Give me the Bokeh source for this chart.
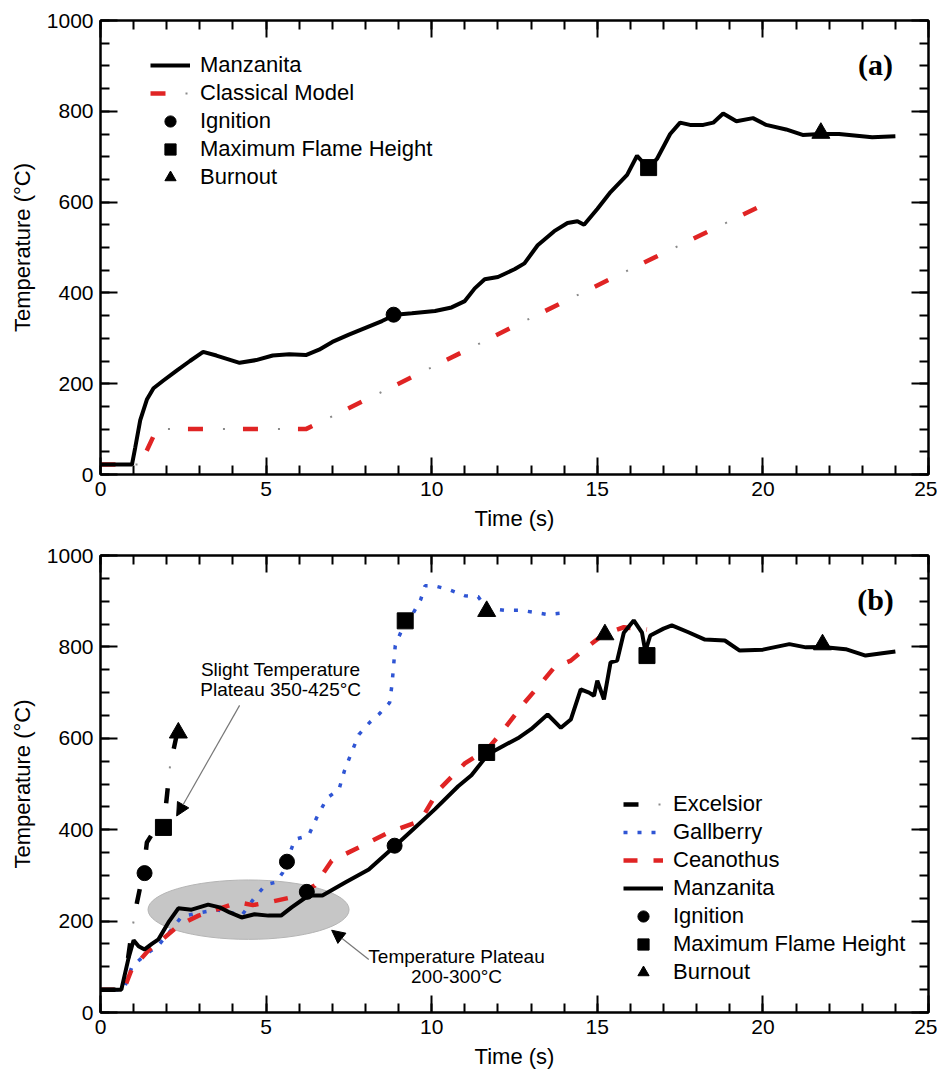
from bokeh.plotting import figure
from bokeh.models import (Range1d, LinearAxis, SingleIntervalTicker, Legend, LegendItem,
                          Label, Arrow, NormalHead, CustomJSTickFormatter)
from bokeh.layouts import column
from bokeh.embed import file_html
from bokeh.resources import INLINE

FONT = "Liberation Sans"

# ---------------- Panel (a) data ----------------
a_manz_t = [0, 0.95, 1.05, 1.2, 1.4, 1.6, 1.9, 2.3, 2.7, 3.1, 3.5, 4.2, 4.7, 5.2, 5.7, 6.2,
            6.6, 7.0, 7.5, 8.0, 8.5, 8.9, 9.4, 10.1, 10.6, 11.0, 11.3, 11.6, 12.0, 12.5,
            12.8, 13.2, 13.7, 14.1, 14.4, 14.6, 15.0, 15.4, 15.9, 16.2, 16.35, 16.55, 16.8,
            17.2, 17.5, 17.8, 18.2, 18.5, 18.8, 19.2, 19.7, 20.1, 20.7, 21.2, 21.75, 22.3,
            23.3, 24.0]
a_manz_T = [22, 22, 60, 120, 165, 190, 207, 229, 250, 270, 262, 246, 252, 262, 265, 263,
            275, 292, 308, 323, 338, 352, 355, 360, 368, 382, 410, 430, 435, 452,
            465, 505, 536, 554, 558, 550, 585, 622, 660, 702, 690, 676, 695,
            750, 775, 770, 770, 775, 795, 778, 785, 770, 760, 748, 750, 750,
            743, 745]
a_model_t = [0, 1.2, 1.7, 6.2, 6.6, 10.0, 13.0, 16.3, 19.9]
a_model_T = [22, 22, 100, 100, 114, 236, 345, 463, 590]
a_ign_t, a_ign_T = [8.85], [352]
a_mfh_t, a_mfh_T = [16.55], [676]
a_burn_t, a_burn_T = [21.75], [752]

# ---------------- Panel (b) data ----------------
b_manz_t = [0, 0.63, 0.85, 1.0, 1.15, 1.33, 1.55, 1.75, 2.05, 2.35, 2.75, 3.25, 3.6, 3.9,
            4.26, 4.65, 5.07, 5.45, 5.77, 6.28, 6.7, 7.4, 8.1, 8.9, 9.5, 10.1, 10.8, 11.2,
            11.7, 12.2, 12.6, 13.0, 13.5, 13.9, 14.2, 14.5, 14.75, 14.9, 15.0, 15.2, 15.4,
            15.6, 15.8, 16.1, 16.35, 16.45, 16.6, 17.0, 17.25, 17.75, 18.25, 18.85, 19.3,
            20.0, 20.8, 21.3, 21.8, 22.5, 23.1, 23.6, 24.0]
b_manz_T = [50, 50, 120, 158, 145, 138, 150, 160, 197, 228, 225, 236, 230, 219,
            208, 215, 212, 212, 230, 256, 256, 285, 313, 365, 405, 445, 495, 519,
            565, 585, 600, 620, 652, 623, 641, 707, 700, 693, 726, 685, 766,
            770, 831, 858, 831, 790, 825, 840, 847, 832, 816, 814, 792,
            794, 806, 799, 800, 795, 781, 786, 790]
b_exc_t = [0, 0.7, 0.95, 1.1, 1.3, 1.4, 1.6, 1.9, 2.0, 2.1, 2.25, 2.4]
b_exc_T = [50, 50, 180, 240, 310, 372, 395, 405, 470, 540, 590, 640]
b_gal_t = [0, 0.7, 0.95, 1.33, 1.75, 2.15, 2.45, 3.05, 3.5, 3.9, 4.26, 4.66, 5.0, 5.3, 5.5,
           5.87, 6.28, 6.55, 6.85, 7.2, 7.37, 7.58, 7.8, 8.13, 8.4, 8.73, 8.8, 8.85, 8.9,
           9.2, 9.45, 9.67, 9.8, 10.05, 10.5, 11.0, 11.4, 11.65, 12.2, 12.7, 13.5, 14.1]
b_gal_T = [50, 50, 100, 125, 147, 182, 210, 219, 225, 219, 212, 252, 280, 285, 306,
           379, 387, 430, 470, 488, 530, 569, 608, 635, 652, 678, 717, 759, 803,
           855, 875, 904, 934, 934, 926, 912, 910, 885, 880, 880, 871, 875]
b_cea_t = [0, 0.7, 0.94, 1.45, 1.84, 2.35, 2.96, 3.5, 4.17, 4.6, 5.07, 5.77, 6.47, 6.98,
           7.9, 8.7, 9.5, 9.8, 10.2, 11.0, 11.7, 12.1, 12.8, 13.3, 13.7, 14.2, 14.7, 15.2,
           15.8, 16.5]
b_cea_T = [50, 50, 94, 136, 158, 190, 212, 225, 241, 235, 241, 252, 278, 332,
           365, 394, 415, 437, 486, 545, 578, 612, 678, 720, 755, 770, 800, 828,
           843, 838]
b_ign_t, b_ign_T = [1.33, 5.63, 6.23, 8.88], [305, 330, 264, 365]
b_mfh_t, b_mfh_T = [1.9, 9.2, 11.66, 16.5], [405, 857, 569, 781]
b_burn_t, b_burn_T = [2.35, 11.66, 15.23, 21.8], [612, 878, 827, 805]

# annotation geometry (data units)
plateau_ellipse = dict(x=4.47, y=225, w=6.07, h=130)
slight_text = dict(x=5.44, y1=750, y2=707)
plateau_text = dict(x=10.75, y1=122, y2=78)
arrow1 = dict(x0=4.2, y0=672, x1=2.3, y1=430)
arrow2 = dict(x0=8.1, y0=116, x1=6.98, y1=180)

RED = "#e02424"
BLUE = "#2f55d4"
GRAY = "#8a8a8a"


def make_fig(frame_h, border_top, border_bottom):
    p = figure(x_range=Range1d(0, 25), y_range=Range1d(0, 1000),
               frame_width=828, frame_height=frame_h,
               min_border_left=100, min_border_right=9,
               min_border_top=border_top, min_border_bottom=border_bottom,
               output_backend="svg", toolbar_location=None,
               x_axis_label="Time (s)", y_axis_label="Temperature (°C)")
    p.xgrid.visible = False
    p.ygrid.visible = False
    p.outline_line_color = "black"
    p.outline_line_width = 2
    p.background_fill_color = "white"
    p.border_fill_color = "white"
    xt = SingleIntervalTicker(interval=5, num_minor_ticks=5)
    yt = SingleIntervalTicker(interval=200, num_minor_ticks=4)
    p.xaxis.ticker = xt
    p.yaxis.ticker = yt
    for ax in (p.xaxis[0], p.yaxis[0]):
        ax.axis_line_width = 2
        ax.major_tick_line_width = 2
        ax.minor_tick_line_width = 2
        ax.major_tick_in = 17
        ax.major_tick_out = 0
        ax.minor_tick_in = 9
        ax.minor_tick_out = 0
        ax.major_label_text_font = FONT
        ax.major_label_text_font_size = "21px"
        ax.major_label_text_color = "black"
        ax.axis_label_text_font = FONT
        ax.axis_label_text_font_size = "22px"
        ax.axis_label_text_font_style = "normal"
        ax.axis_label_text_color = "black"
    p.xaxis.major_label_standoff = 7
    p.xaxis.axis_label_standoff = 7
    p.yaxis.major_label_standoff = 7
    p.yaxis.axis_label_standoff = 9
    blank = CustomJSTickFormatter(code="return ''")
    for loc, tk in (("above", xt), ("right", yt)):
        ax = LinearAxis(ticker=tk, formatter=blank)
        ax.axis_line_width = 2
        ax.major_tick_line_width = 2
        ax.minor_tick_line_width = 2
        ax.major_tick_in = 17
        ax.major_tick_out = 0
        ax.minor_tick_in = 9
        ax.minor_tick_out = 0
        ax.major_label_text_font_size = "1px"
        ax.major_label_standoff = 0
        p.add_layout(ax, loc)
    return p


def style_legend(leg):
    leg.label_text_font = FONT
    leg.label_text_font_size = "22px"
    leg.label_text_color = "black"
    leg.glyph_width = 40
    leg.glyph_height = 28
    leg.label_height = 28
    leg.spacing = 0
    leg.label_standoff = 10
    leg.padding = 0
    leg.margin = 0
    leg.border_line_alpha = 0
    leg.background_fill_alpha = 0


# ---------------- Panel (a) ----------------
pa = make_fig(454, 20, 57)
r_mod_red = pa.line(a_model_t, a_model_T, line_color=RED, line_width=4.5, line_dash="15 40")
r_mod_gray = pa.line(a_model_t, a_model_T, line_color=GRAY, line_width=2,
                     line_dash="2 53", line_dash_offset=20)
r_a_manz = pa.line(a_manz_t, a_manz_T, line_color="black", line_width=4)
r_a_ign = pa.scatter(a_ign_t, a_ign_T, marker="circle", size=15, color="black")
r_a_mfh = pa.scatter(a_mfh_t, a_mfh_T, marker="square", size=16, color="black")
r_a_burn = pa.scatter(a_burn_t, a_burn_T, marker="triangle", size=18, color="black")
leg_a = Legend(items=[
    LegendItem(label="Manzanita", renderers=[r_a_manz]),
    LegendItem(label="Classical Model", renderers=[r_mod_red, r_mod_gray]),
    LegendItem(label="Ignition", renderers=[r_a_ign]),
    LegendItem(label="Maximum Flame Height", renderers=[r_a_mfh]),
    LegendItem(label="Burnout", renderers=[r_a_burn]),
], location=(50, 283))
style_legend(leg_a)
pa.add_layout(leg_a)
pa.add_layout(Label(x=23.4, y=903, text="(a)", text_font="Liberation Serif",
                    text_font_style="bold", text_font_size="30px", text_color="black",
                    text_align="center", text_baseline="middle"))

# ---------------- Panel (b) ----------------
pb = make_fig(457, 22, 56)
pb.ellipse(x=[plateau_ellipse["x"]], y=[plateau_ellipse["y"]],
           width=[plateau_ellipse["w"]], height=[plateau_ellipse["h"]],
           fill_color="#c6c6c6", line_color="#b4b4b4", line_width=1)
r_gal = pb.line(b_gal_t, b_gal_T, line_color=BLUE, line_width=3.5, line_dash="4 10")
r_cea = pb.line(b_cea_t, b_cea_T, line_color=RED, line_width=4.5, line_dash="14 16")
r_exc = pb.line(b_exc_t, b_exc_T, line_color="black", line_width=4.5, line_dash="15 40")
r_exc_g = pb.line(b_exc_t, b_exc_T, line_color=GRAY, line_width=2,
                  line_dash="2 53", line_dash_offset=20)
r_b_manz = pb.line(b_manz_t, b_manz_T, line_color="black", line_width=4)
r_b_ign = pb.scatter(b_ign_t, b_ign_T, marker="circle", size=15, color="black")
r_b_mfh = pb.scatter(b_mfh_t, b_mfh_T, marker="square", size=16, color="black")
r_b_burn = pb.scatter(b_burn_t, b_burn_T, marker="triangle", size=18, color="black")
leg_b = Legend(items=[
    LegendItem(label="Excelsior", renderers=[r_exc, r_exc_g]),
    LegendItem(label="Gallberry", renderers=[r_gal]),
    LegendItem(label="Ceanothus", renderers=[r_cea]),
    LegendItem(label="Manzanita", renderers=[r_b_manz]),
    LegendItem(label="Ignition", renderers=[r_b_ign]),
    LegendItem(label="Maximum Flame Height", renderers=[r_b_mfh]),
    LegendItem(label="Burnout", renderers=[r_b_burn]),
], location=(523, 26))
style_legend(leg_b)
pb.add_layout(leg_b)
pb.add_layout(Label(x=23.4, y=904, text="(b)", text_font="Liberation Serif",
                    text_font_style="bold", text_font_size="30px", text_color="black",
                    text_align="center", text_baseline="middle"))
for txt, yy in (("Slight Temperature", slight_text["y1"]),
                ("Plateau 350-425°C", slight_text["y2"])):
    pb.add_layout(Label(x=slight_text["x"], y=yy, text=txt, text_font=FONT,
                        text_color="black", text_font_size="19px",
                        text_align="center", text_baseline="middle"))
for txt, yy in (("Temperature Plateau", plateau_text["y1"]),
                ("200-300°C", plateau_text["y2"])):
    pb.add_layout(Label(x=plateau_text["x"], y=yy, text=txt, text_font=FONT,
                        text_color="black", text_font_size="19px",
                        text_align="center", text_baseline="middle"))
for a in (arrow1, arrow2):
    pb.add_layout(Arrow(end=NormalHead(size=13, fill_color="black", line_color="black"),
                        x_start=a["x0"], y_start=a["y0"], x_end=a["x1"], y_end=a["y1"],
                        line_color="#777777", line_width=1.2))

layout = column(pa, pb)
open("out.html", "w").write(file_html(layout, INLINE))
